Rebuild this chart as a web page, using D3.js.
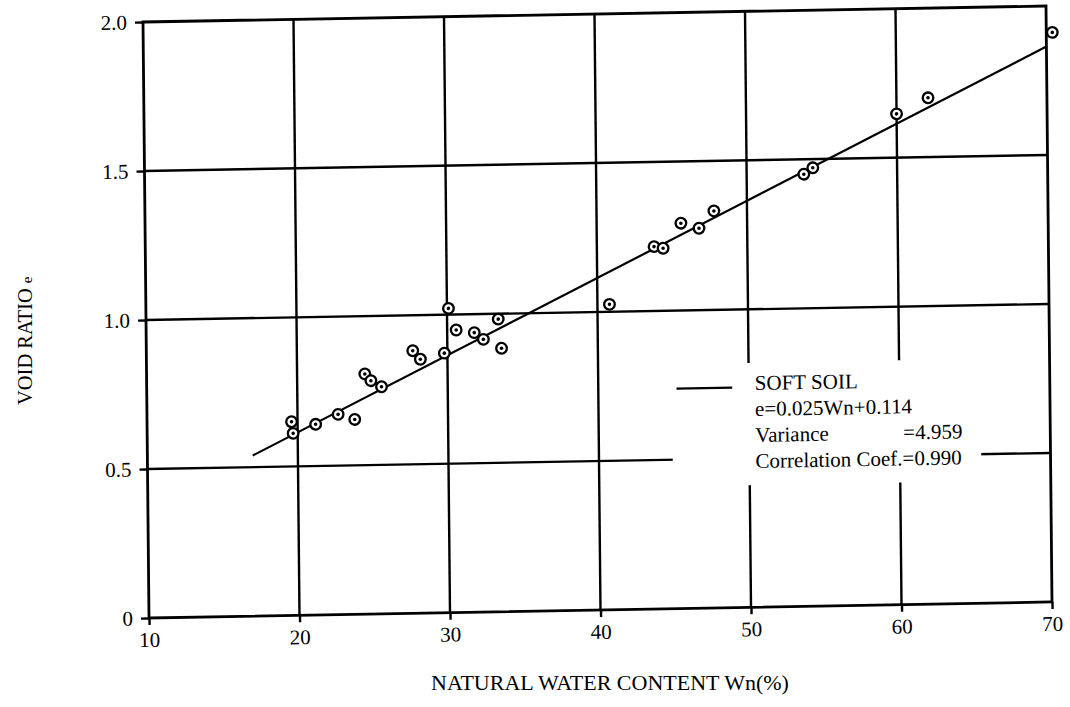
<!DOCTYPE html>
<html>
<head>
<meta charset="utf-8">
<script src="https://cdn.jsdelivr.net/npm/d3@7"></script>
<style>
  html, body { margin: 0; padding: 0; background: #fff; }
  svg { display: block; }
  text { font-family: "Liberation Serif", "Times New Roman", serif; fill: #000; }
</style>
</head>
<body>
<svg id="chart" width="1070" height="707"></svg>
<script>
// ---- data ----
const xTicks = [10, 20, 30, 40, 50, 60, 70];
const yTicks = [0, 0.5, 1.0, 1.5, 2.0];
const yTickLabels = ["0", "0.5", "1.0", "1.5", "2.0"];
const wn = [19.6, 19.7, 21.2, 22.7, 23.8, 24.5, 24.9, 25.6, 27.7, 28.2, 29.8, 30.1, 30.6, 31.8,
            32.4, 33.4, 33.6, 40.8, 43.8, 44.4, 45.6, 46.8, 47.8, 53.8, 54.4, 60.0, 62.1, 70.4];
const voidRatio = [0.650, 0.611, 0.640, 0.672, 0.654, 0.806, 0.783, 0.762, 0.881, 0.852, 0.871, 1.021, 0.948, 0.938,
                   0.915, 0.982, 0.884, 1.025, 1.216, 1.210, 1.293, 1.275, 1.332, 1.450, 1.471, 1.647, 1.699, 1.911];
const fitSlope = 0.025;
const fitIntercept = 0.114;
const fitRange = [17, 70];
const legendLines = ["SOFT SOIL", "e=0.025Wn+0.114", "Variance", "Correlation Coef.=0.990"];
const varianceValue = "=4.959";
const xTitle = "NATURAL WATER CONTENT Wn(%)";
const yTitle = "VOID RATIO ";
const yTitleSuffix = "e";

// ---- layout ----
const W = 903, H = 596;
const svg = d3.select("#chart");
// slight skew/rotation like the scanned original
const g = svg.append("g").attr("transform", "matrix(1,-0.01772,0.01007,1,143,22)");

const x = d3.scaleLinear().domain([10, 70]).range([0, W]);
const y = d3.scaleLinear().domain([0, 2]).range([H, 0]);

// grid lines
g.append("g").selectAll("line.v").data(xTicks.slice(1, -1)).join("line")
  .attr("x1", d => x(d)).attr("x2", d => x(d)).attr("y1", y(0)).attr("y2", y(2))
  .attr("stroke", "#000").attr("stroke-width", 2.4);
g.append("g").selectAll("line.h").data(yTicks.slice(1, -1)).join("line")
  .attr("x1", x(10)).attr("x2", x(70)).attr("y1", d => y(d)).attr("y2", d => y(d))
  .attr("stroke", "#000").attr("stroke-width", 2.4);

// legend background (interrupts grid)
g.append("rect")
  .attr("x", x(44.9)).attr("y", y(0.82))
  .attr("width", x(65.4) - x(44.9)).attr("height", y(0.41) - y(0.82))
  .attr("fill", "#fff");

// border
g.append("rect").attr("x", 0).attr("y", 0).attr("width", W).attr("height", H)
  .attr("fill", "none").attr("stroke", "#000").attr("stroke-width", 2.8);

// axes
const xAxis = d3.axisBottom(x).tickValues(xTicks).tickFormat(d3.format("d")).tickSize(7).tickPadding(7);
const yAxis = d3.axisLeft(y).tickValues(yTicks).tickFormat((d, i) => yTickLabels[i]).tickSize(8).tickPadding(8);
const gx = g.append("g").attr("transform", `translate(0,${H})`).call(xAxis);
const gy = g.append("g").call(yAxis);
[gx, gy].forEach(a => {
  a.select(".domain").remove();
  a.selectAll(".tick line").attr("stroke", "#000").attr("stroke-width", 2.4);
  a.selectAll(".tick text").style("font-family", '"Liberation Serif", serif').style("font-size", "21px").attr("fill", "#000");
});

// regression line
const fit = d3.line().x(d => x(d)).y(d => y(fitSlope * d + fitIntercept));
g.append("path").datum(fitRange).attr("d", fit)
  .attr("fill", "none").attr("stroke", "#000").attr("stroke-width", 2.2);

// points
const pts = g.append("g").selectAll("g").data(wn.map((w, i) => [w, voidRatio[i]])).join("g")
  .attr("transform", d => `translate(${x(d[0])},${y(d[1])})`);
pts.append("circle").attr("r", 5.3).attr("fill", "#fff").attr("stroke", "#000").attr("stroke-width", 2.3);
pts.append("circle").attr("r", 1.8).attr("fill", "#000");

// legend
const lg = g.append("g");
lg.append("line")
  .attr("x1", x(44.8) + 6).attr("x2", x(48.9)).attr("y1", y(0.738)).attr("y2", y(0.738))
  .attr("stroke", "#000").attr("stroke-width", 2.2);
const lx0 = x(50.4);
legendLines.forEach((t, i) => {
  lg.append("text").attr("x", lx0).attr("y", y(0.729) + i * 26)
    .style("font-size", "21px").text(t);
});
lg.append("text").attr("x", lx0 + 148).attr("y", y(0.729) + 2 * 26)
  .style("font-size", "21px").text(varianceValue);

// axis titles
svg.append("text").attr("x", 610).attr("y", 690).attr("text-anchor", "middle")
  .style("font-size", "22px").text(xTitle);
const yt = svg.append("text").attr("transform", "translate(32,405) rotate(-90)")
  .attr("text-anchor", "start").style("font-size", "20.5px");
yt.append("tspan").text(yTitle);
yt.append("tspan").style("font-size", "15px").text(yTitleSuffix);
</script>
</body>
</html>
